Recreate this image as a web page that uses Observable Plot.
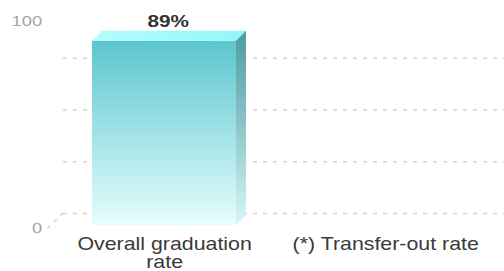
<!DOCTYPE html>
<html><head><meta charset="utf-8">
<script src="https://cdn.jsdelivr.net/npm/d3@7"></script>
<script src="https://cdn.jsdelivr.net/npm/@observablehq/plot@0.6"></script>
<style>
html,body{margin:0;padding:0;background:#fff;overflow:hidden}
#chart{width:504px;height:271px;overflow:hidden}
#chart svg{transform:scaleX(1.2203);transform-origin:0 0;display:block;overflow:visible}
</style></head><body><div id="chart"></div>
<script>
const categories = ["Overall graduation rate", "(*) Transfer-out rate"];
const tickLabels = ["Overall graduation\nrate", "(*) Transfer-out rate"];
const values = [89, null];
const valueLabels = ["89%", ""];
const yTicks = [0, 100];
const gridValues = [0, 25, 50, 75];

const data = categories.map((c, i) => ({category: c, value: values[i], label: valueLabels[i], tick: tickLabels[i]}));

const DX = 8.5, DY = -12;   // back-wall offset
const BDX = 8.2, BDY = -10; // bar depth offset
const SVGNS = "http://www.w3.org/2000/svg";

function el(name, attrs) {
  const e = document.createElementNS(SVGNS, name);
  for (const k in attrs) e.setAttribute(k, attrs[k]);
  return e;
}
function grad(id, stops, vertical = true) {
  const g = el("linearGradient", {id, x1: 0, y1: 0, x2: vertical ? 0 : 1, y2: vertical ? 1 : 0});
  stops.forEach(([o, c]) => g.appendChild(el("stop", {offset: o, "stop-color": c})));
  return g;
}

function depthFaces(index, scales, vals, dims) {
  const x = scales.x, y = scales.y;
  const bw = typeof x.bandwidth === "function" ? x.bandwidth() : x.bandwidth;
  const g = el("g", {});
  const defs = el("defs", {});
  defs.appendChild(grad("sideGrad", [[0, "#4a9ca0"], [0.5, "#8fc6c8"], [1, "#d8f6f6"]]));
  defs.appendChild(grad("topGrad", [[0, "#b4fdff"], [1, "#92f6fa"]], false));
  g.appendChild(defs);
  // zero-line diagonal from front plane to back wall
  const y0 = y(0), L = dims.marginLeft;
  g.appendChild(el("line", {x1: L - 4, y1: y0 + 3, x2: L + DX, y2: y0 + DY,
    stroke: "#d4d4d4", "stroke-width": 1.5, "stroke-dasharray": "3.3,4.9"}));
  data.forEach(d => {
    if (d.value == null) return;
    const x0 = x(d.category), x1 = x0 + bw, yt = y(d.value);
    const pts = a => a.map(p => p.join(",")).join(" ");
    g.appendChild(el("polygon", {points: pts([[x0, yt], [x0 + BDX, yt + BDY], [x1 + BDX, yt + BDY], [x1, yt]]), fill: "url(#topGrad)"}));
    g.appendChild(el("polygon", {points: pts([[x1, yt], [x1 + BDX, yt + BDY], [x1 + BDX, y0 + BDY], [x1, y0]]), fill: "url(#sideGrad)"}));
  });
  return g;
}

function frontDefs() {
  const defs = el("defs", {});
  defs.appendChild(grad("frontGrad", [[0, "#5bc6ce"], [0.5, "#a0e2e6"], [1, "#e6fdfd"]]));
  return defs;
}

const chart = Plot.plot({
  width: 413,
  height: 271,
  marginLeft: 43,
  marginRight: 6,
  marginTop: 18,
  marginBottom: 46,
  style: {fontFamily: "'Liberation Sans', Arial, sans-serif", background: "#fff"},
  x: {domain: categories, paddingInner: 0.349, paddingOuter: 0.179, round: false, axis: null},
  y: {domain: [0, 100], axis: null},
  marks: [
    frontDefs,
    Plot.ruleY(gridValues, {dx: DX, dy: DY, stroke: "#d4d4d4", strokeWidth: 1.5, strokeDasharray: "3.3,4.9"}),
    Plot.barY(data.filter(d => d.value != null), {x: "category", y: "value", fill: "url(#frontGrad)"}),
    depthFaces,
    Plot.text(data, {x: "category", y: "value", text: "label", dx: 3, dy: -20, fontWeight: "bold", fontSize: 17, fill: "#333"}),
    Plot.text(yTicks, {y: d => d, text: d => String(d), frameAnchor: "left", textAnchor: "end", dx: -9, dy: 3, fontSize: 15, fill: "#a6a6a6"}),
    Plot.text(data, {x: "category", text: "tick", frameAnchor: "bottom", lineAnchor: "top", dy: 12, fontSize: 17.5, lineHeight: 1.02, fill: "#3a3a3a"})
  ]
});
document.getElementById("chart").appendChild(chart);
</script>
</body></html>
